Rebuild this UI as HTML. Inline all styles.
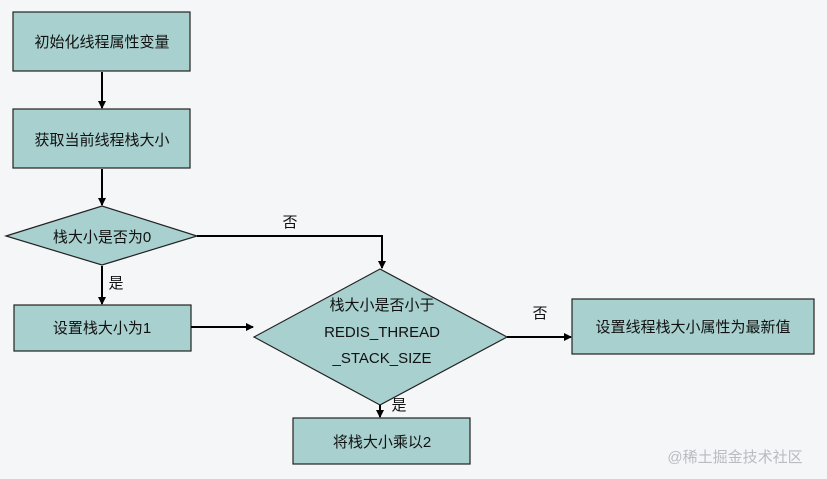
<!DOCTYPE html>
<html><head><meta charset="utf-8"><style>
html,body{margin:0;padding:0;background:#f4f6f8;}
svg text{font-family:"Liberation Sans","Noto Sans CJK SC",sans-serif;fill:#111;}
</style></head><body>
<svg width="827" height="474" viewBox="0 0 827 474" xmlns="http://www.w3.org/2000/svg">
<defs><marker id="a" markerWidth="8" markerHeight="8" refX="7" refY="4" orient="auto" markerUnits="userSpaceOnUse"><path d="M0,0 L8,4 L0,8 z" fill="#000"/></marker></defs>
<rect x="0" y="0" width="827" height="474" fill="#f4f6f8"/>
<g fill="#a8d0cf" stroke="#222" stroke-width="1.2">
<rect x="13" y="12" width="177" height="59"/>
<rect x="13" y="109" width="177" height="59"/>
<polygon points="6,236 102,206 197,236 102,265"/>
<rect x="14" y="305" width="177" height="46"/>
<polygon points="254,337 380,269 507,337 380,405"/>
<rect x="572" y="299" width="242" height="55"/>
<rect x="293" y="418" width="177" height="46"/>
</g>
<g stroke="#000" stroke-width="2" fill="none" marker-end="url(#a)">
<line x1="102" y1="72" x2="102" y2="108"/>
<line x1="102" y1="169" x2="102" y2="205"/>
<line x1="102" y1="266" x2="102" y2="304"/>
<polyline points="197,236 382,236 382,268"/>
<line x1="191" y1="327" x2="253" y2="327"/>
<line x1="507" y1="337" x2="571" y2="337"/>
<line x1="380" y1="405" x2="380" y2="417"/>
</g>
<g font-size="15" text-anchor="middle">
<text x="102" y="47">初始化线程属性变量</text>
<text x="102" y="145">获取当前线程栈大小</text>
<text x="102" y="242">栈大小是否为0</text>
<text x="102" y="333">设置栈大小为1</text>
<text x="382" y="310">栈大小是否小于</text>
<text x="382" y="337">REDIS_THREAD</text>
<text x="382" y="363">_STACK_SIZE</text>
<text x="693" y="332">设置线程栈大小属性为最新值</text>
<text x="382" y="447">将栈大小乘以2</text>
<text x="290" y="227">否</text>
<text x="116" y="288">是</text>
<text x="540" y="318">否</text>
<text x="399" y="410">是</text>
</g>
<text x="735" y="462" font-size="15" text-anchor="middle" style="fill:#b8bcc0">@稀土掘金技术社区</text>
</svg>
</body></html>
